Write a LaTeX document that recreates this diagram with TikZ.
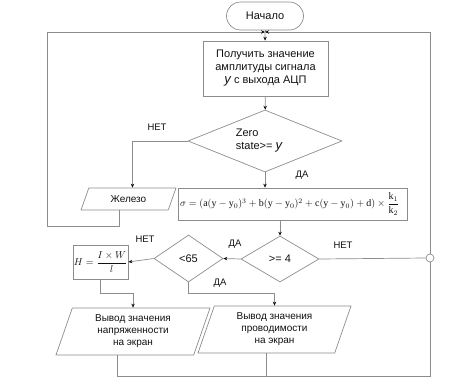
\documentclass[tikz,border=0pt]{standalone}
\usepackage{fontspec}
\setmainfont{Liberation Sans}
\setmathrm{Liberation Serif}
\usepackage{tikz}
\usetikzlibrary{arrows.meta,shapes.geometric}
\definecolor{edge}{HTML}{8C8C8C}
\definecolor{ink}{HTML}{111111}

\begin{document}
\begin{tikzpicture}[x=1pt, y=-1pt, font=\fontsize{11}{13}\selectfont,
    every node/.style={align=center, text=ink},
    box/.style={draw=edge, line width=0.7pt, inner sep=2pt},
    cond/.style={draw=edge, line width=0.7pt, diamond, aspect=2.5, inner sep=1pt},
    io/.style={draw=edge, line width=0.7pt, trapezium, trapezium left angle=65, trapezium right angle=115, trapezium stretches body, inner sep=1pt},
    lbl/.style={font=\fontsize{9.5}{11}\selectfont},
    line/.style={draw=edge, line width=0.7pt},
    arr/.style={line, -{Stealth[length=4pt, width=3.5pt, color=ink]}}]
    \useasboundingbox (0,0) rectangle (450,386);
    % blocks
    \node[box, rounded corners=14pt, minimum width=77pt, minimum height=28pt] (start) at (265,16) {Начало};
    \node[box, minimum width=125pt, minimum height=55pt] (proc) at (265.5,68.5)
      {Получить значение\\амплитуды сигнала\\{\fontsize{13}{13}\selectfont\itshape y} с выхода АЦП};
    \node[cond, minimum width=154pt, minimum height=62pt, align=left] (zero) at (265,141)
      {Zero\hspace*{12pt}\\state>= {\fontsize{13}{13}\selectfont\itshape y}\hspace*{12pt}};
    \node[io, trapezium left angle=49, trapezium right angle=131, minimum width=95pt, minimum height=22pt, font=\fontsize{10}{12}\selectfont] (iron) at (128.5,199) {Железо};
    \node[box, minimum width=229pt, minimum height=32pt, text width=225pt, inner xsep=1pt, align=left, font=\fontsize{10}{12}\selectfont] (sigma) at (292.5,204)
      {$\sigma=(\mathrm{a}(\mathrm{y}-\mathrm{y}_0)^3+\mathrm{b}(\mathrm{y}-\mathrm{y}_0)^2+\mathrm{c}(\mathrm{y}-\mathrm{y}_0)+\mathrm{d})\times\displaystyle\frac{\mathrm{k}_1}{\mathrm{k}_2}$};
    \node[cond, minimum width=78pt, minimum height=46pt] (ge) at (280,259) {>= 4};
    \node[cond, minimum width=69pt, minimum height=47pt] (lt) at (188.5,258.5) {<65};
    \node[box, minimum width=49pt, minimum height=34pt, inner sep=1pt, font=\fontsize{10}{12}\selectfont] (hfield) at (100.5,262) {$\displaystyle H=\frac{I\times W}{l}$};
    \node[io, minimum width=154pt, minimum height=47pt, font=\fontsize{10}{12}\selectfont] (outh) at (133,331.5)
      {Вывод значения\\напряженности\\на экран};
    \node[io, minimum width=153pt, minimum height=47pt, font=\fontsize{10}{12}\selectfont] (outs) at (274.5,329.5)
      {Вывод значения\\проводимости\\на экран};
    \node[draw=edge, line width=0.7pt, circle, minimum size=8pt, inner sep=0pt] (join) at (430,258) {};
    \coordinate (top) at (265,32);
    \coordinate (lefttop) at (47,32);
    \coordinate (righttop) at (430,32);
    \coordinate (rightbot) at (430,376);
    % labels
    \node[lbl] (no1) at (157,127) {НЕТ};
    \node[lbl] (yes1) at (302,175) {ДА};
    \node[lbl] (no2) at (343,245) {НЕТ};
    \node[lbl] (yes2) at (235,244) {ДА};
    \node[lbl] (no3) at (145,239) {НЕТ};
    \node[lbl] (yes3) at (220,283) {ДА};
    % connectors
    \draw[line] (start) -- (top);
    \draw[arr] (top) -- (proc);
    \draw[arr] (proc) -- (zero);
    \draw[arr] (zero.west) -| ([xshift=4pt]iron.north);
    \draw[arr] (zero.south) -- (zero.south |- sigma.north);
    \draw[arr] ([xshift=-9pt]iron.south) -- ++(0,16) -| (lefttop) -- (top);
    \draw[arr] (ge.north |- sigma.south) -- (ge);
    \draw[arr] (ge.west) -- (lt.east);
    \draw[arr] (lt.west) -- (hfield.east);
    \draw[line] (ge.east) -- (join.west);
    \draw[arr] (hfield.south) -- ++(0,14) -| (outh.north);
    \draw[arr] (lt.south) -- ++(0,11) -| (outs.north);
    \draw[line] ([xshift=-16pt]outh.south) |- (rightbot) -- (join.south);
    \draw[line] ([xshift=-8pt]outs.south) -- ([xshift=-8pt]outs.south |- rightbot);
    \draw[arr] (join.north) -- (righttop) -- (top);
  \end{tikzpicture}
\end{document}
